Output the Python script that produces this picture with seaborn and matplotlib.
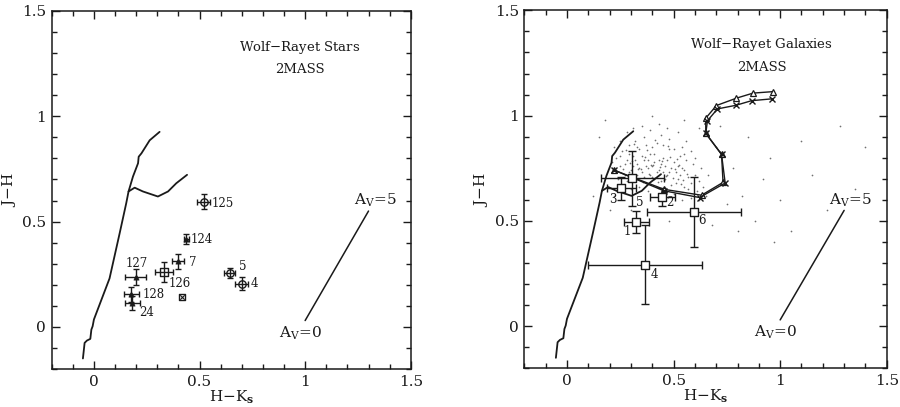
import numpy as np
import pandas as pd
import matplotlib
matplotlib.use("Agg")
import matplotlib.pyplot as plt
from matplotlib.ticker import MultipleLocator, FixedLocator, FixedFormatter
import seaborn as sns

# ---------------- data ----------------
# stellar locus (dwarfs) and giant branch
ms_hk = [-0.052, -0.044, -0.033, -0.017, -0.012, -0.006, 0.0, 0.074, 0.122, 0.153, 0.164, 0.185, 0.209, 0.212, 0.225, 0.264, 0.311]
ms_jh = [-0.150, -0.076, -0.065, -0.057, -0.013, 0.003, 0.035, 0.230, 0.445, 0.587, 0.643, 0.714, 0.777, 0.808, 0.824, 0.886, 0.926]
gb_hk = [0.164, 0.193, 0.232, 0.303, 0.351, 0.390, 0.441]
gb_jh = [0.643, 0.661, 0.643, 0.619, 0.643, 0.682, 0.722]

# reddening vector
red_hk = [1.0, 1.3]
red_jh = [0.03, 0.55]

# Wolf-Rayet stars
star_names = ["125", "124", "7", "126", "127", "128", "24", "5", "4"]
star_hk = [0.520, 0.438, 0.398, 0.332, 0.198, 0.177, 0.182, 0.643, 0.700]
star_jh = [0.595, 0.418, 0.311, 0.259, 0.237, 0.155, 0.114, 0.256, 0.205]
star_hk_err = [0.030, 0.013, 0.030, 0.044, 0.050, 0.036, 0.034, 0.027, 0.031]
star_jh_err = [0.036, 0.024, 0.035, 0.047, 0.036, 0.036, 0.032, 0.024, 0.032]
star_kind = ["open", "filled", "filled", "square", "filled", "filled", "filled", "open", "open"]
star_lab_hk = [0.611, 0.509, 0.469, 0.406, 0.204, 0.283, 0.251, 0.703, 0.762]
star_lab_jh = [0.588, 0.417, 0.306, 0.205, 0.303, 0.156, 0.066, 0.287, 0.208]
extra_hk = [0.419]
extra_jh = [0.140]

# Wolf-Rayet galaxies
gal_names = ["1", "2", "3", "4", "5", "6"]
gal_hk = [0.326, 0.448, 0.255, 0.366, 0.307, 0.596]
gal_jh = [0.495, 0.614, 0.654, 0.292, 0.702, 0.543]
gal_hk_err = [0.058, 0.060, 0.069, 0.268, 0.146, 0.219]
gal_jh_err = [0.050, 0.044, 0.056, 0.188, 0.129, 0.167]
gal_lab_hk = [0.282, 0.482, 0.216, 0.408, 0.341, 0.631]
gal_lab_jh = [0.448, 0.586, 0.603, 0.246, 0.586, 0.503]

# model tracks
trk_a_hk = [0.221, 0.455, 0.631, 0.732, 0.725, 0.651, 0.651, 0.701, 0.795, 0.873, 0.967]
trk_a_jh = [0.741, 0.650, 0.622, 0.683, 0.816, 0.916, 0.988, 1.048, 1.083, 1.107, 1.114]
trk_b_hk = [0.221, 0.455, 0.622, 0.742, 0.725, 0.651, 0.659, 0.706, 0.792, 0.866, 0.964]
trk_b_jh = [0.741, 0.643, 0.611, 0.680, 0.816, 0.916, 0.976, 1.032, 1.049, 1.071, 1.080]

# 2MASS field sources
field_hk = [0.23,0.25,0.26,0.27,0.28,0.29,0.30,0.31,0.32,0.33,0.34,0.35,0.36,0.37,0.38,0.39,0.40,0.41,0.42,0.43,
            0.44,0.45,0.46,0.47,0.48,0.49,0.50,0.51,0.52,0.53,0.54,0.55,0.56,0.57,0.58,0.59,0.24,0.26,0.28,0.30,
            0.32,0.34,0.36,0.38,0.40,0.42,0.44,0.46,0.48,0.50,0.27,0.29,0.31,0.33,0.35,0.37,0.39,0.41,0.43,0.45,
            0.47,0.49,0.51,0.53,0.55,0.57,0.60,0.62,0.61,0.63,0.22,0.25,0.28,0.31,0.35,0.39,0.43,0.47,0.52,0.56,
            0.36,0.38,0.40,0.42,0.44,0.46,0.34,0.32,0.30,0.48,0.52,0.54,0.58,0.60,0.64,0.66,0.65,0.62,0.58,0.54,
            0.21,0.23,0.25,0.29,0.33,0.37,0.41,0.45,0.50,0.55,
            0.265,0.285,0.305,0.325,0.345,0.365,0.385,0.405,0.425,0.445,0.465,0.485,0.505,0.525,0.545,0.565,
            0.275,0.295,0.315,0.335,0.355,0.375,0.395,0.415,0.435,0.455,0.475,0.495,0.515,0.535,
            0.12,0.15,0.18,0.20,0.22,0.40,0.55,0.62,0.70,0.75,0.78,0.82,0.85,0.88,0.92,0.95,1.00,1.05,1.10,1.15,
            1.22,1.28,1.35,1.40,0.68,0.48,0.30,0.72,0.80,0.97]
field_jh = [0.80,0.76,0.83,0.72,0.79,0.86,0.74,0.81,0.70,0.77,0.84,0.73,0.79,0.68,0.75,0.82,0.71,0.78,0.87,0.74,
            0.69,0.80,0.76,0.72,0.84,0.67,0.78,0.73,0.70,0.81,0.75,0.66,0.79,0.71,0.68,0.77,0.70,0.67,0.69,0.65,
            0.88,0.66,0.90,0.64,0.85,0.66,0.91,0.64,0.89,0.63,0.77,0.73,0.76,0.72,0.81,0.76,0.72,0.70,0.79,0.73,
            0.79,0.75,0.68,0.72,0.74,0.65,0.72,0.69,0.64,0.75,0.85,0.88,0.92,0.94,0.95,0.93,0.96,0.94,0.92,0.88,
            0.71,0.79,0.76,0.73,0.77,0.70,0.75,0.79,0.71,0.73,0.76,0.85,0.83,0.80,0.66,0.72,0.62,0.60,0.61,0.60,
            0.78,0.74,0.81,0.82,0.85,0.86,0.82,0.86,0.84,0.82,
            0.745,0.705,0.785,0.695,0.745,0.805,0.725,0.765,0.685,0.785,0.715,0.805,0.745,0.765,0.695,0.725,
            0.835,0.775,0.865,0.745,0.685,0.835,0.765,0.885,0.755,0.695,0.855,0.705,0.795,0.675,
            0.62,0.90,0.98,0.55,0.62,1.00,0.98,0.94,0.85,0.58,0.75,0.62,0.90,0.50,0.70,0.80,0.60,0.45,0.88,0.72,
            0.55,0.95,0.65,0.85,0.48,0.50,0.55,0.95,0.45,0.40]

# ---------------- style ----------------
sns.set_theme(style="ticks")
plt.rcParams["font.family"] = ["DejaVu Serif", "DejaVu Sans"]
plt.rcParams["mathtext.fontset"] = "dejavuserif"
plt.rcParams["axes.edgecolor"] = "#222222"
plt.rcParams["axes.linewidth"] = 1.1

INK = "#1a1a1a"

fig = plt.figure(figsize=(9.0, 4.07), dpi=100)
axL = fig.add_axes([0.0574, 0.0934, 0.399, 0.8796])
axR = fig.add_axes([0.5826, 0.0950, 0.4027, 0.8796])


def frame(ax):
    ax.set_xlim(-0.2, 1.5)
    ax.set_ylim(-0.2, 1.5)
    ax.xaxis.set_major_locator(FixedLocator([0, 0.5, 1, 1.5]))
    ax.xaxis.set_major_formatter(FixedFormatter(["0", "0.5", "1", "1.5"]))
    ax.yaxis.set_major_locator(FixedLocator([0, 0.5, 1, 1.5]))
    ax.yaxis.set_major_formatter(FixedFormatter(["0", "0.5", "1", "1.5"]))
    ax.xaxis.set_minor_locator(MultipleLocator(0.1))
    ax.yaxis.set_minor_locator(MultipleLocator(0.1))
    ax.tick_params(which="both", direction="in", top=True, right=True,
                   color=INK, labelsize=11, labelcolor=INK, width=1.0)
    ax.tick_params(which="major", length=6, pad=4)
    ax.tick_params(which="minor", length=3.5)
    for s in ax.spines.values():
        s.set_visible(True)
        s.set_color(INK)
    ax.set_xlabel(r"H$-$K$_{\mathbf{s}}$", fontsize=11, color=INK, labelpad=0)
    ax.set_ylabel(r"J$-$H", fontsize=11, color=INK, labelpad=3)
    # stellar locus
    sns.lineplot(x=ms_hk, y=ms_jh, sort=False, estimator=None, ax=ax, color=INK, lw=1.3)
    sns.lineplot(x=gb_hk, y=gb_jh, sort=False, estimator=None, ax=ax, color=INK, lw=1.3)
    # reddening vector
    sns.lineplot(x=red_hk, y=red_jh, sort=False, estimator=None, ax=ax, color=INK, lw=1.1)
    ax.text(red_hk[1] + 0.03, red_jh[1] + 0.05, r"A$_{\rm V}$=5", fontsize=11,
            ha="center", va="center", color=INK)
    ax.text(red_hk[0] - 0.02, red_jh[0] - 0.06, r"A$_{\rm V}$=0", fontsize=11,
            ha="center", va="center", color=INK)


frame(axL)
frame(axR)

# ---------- left panel: stars ----------
axL.errorbar(star_hk, star_jh, xerr=star_hk_err, yerr=star_jh_err, fmt="none",
             ecolor=INK, elinewidth=1.0, capsize=2.5, capthick=1.0)
df_s = pd.DataFrame({"hk": star_hk, "jh": star_jh, "kind": star_kind})
sub = df_s[df_s.kind == "filled"]
sns.scatterplot(data=sub, x="hk", y="jh", ax=axL, marker="^", s=14, color=INK, edgecolor=INK, linewidth=0.5)
sub = df_s[df_s.kind == "open"]
sns.scatterplot(data=sub, x="hk", y="jh", ax=axL, marker="o", s=28, facecolor="white", edgecolor=INK, linewidth=1.0)
sub = df_s[df_s.kind == "square"]
sns.scatterplot(data=sub, x="hk", y="jh", ax=axL, marker="s", s=30, facecolor="white", edgecolor=INK, linewidth=1.0)
sns.scatterplot(x=extra_hk, y=extra_jh, ax=axL, marker="s", s=22, facecolor="white", edgecolor=INK, linewidth=1.0)
sns.scatterplot(x=extra_hk, y=extra_jh, ax=axL, marker="x", s=10, color=INK, linewidth=0.8)
for n, x, y in zip(star_names, star_lab_hk, star_lab_jh):
    axL.text(x, y, n, fontsize=8.5, ha="center", va="center", color=INK)
axL.text(0.975, 1.328, "Wolf$-$Rayet Stars", fontsize=9.5, ha="center", va="center", color=INK)
axL.text(0.975, 1.222, "2MASS", fontsize=9.5, ha="center", va="center", color=INK)

# ---------- right panel: galaxies ----------
sns.scatterplot(x=field_hk, y=field_jh, ax=axR, s=1.5, color="#707070", linewidth=0, zorder=1)
sns.lineplot(x=trk_a_hk, y=trk_a_jh, sort=False, estimator=None, ax=axR, color=INK, lw=1.0,
             marker="^", markersize=4.5, markerfacecolor="white", markeredgecolor=INK, markeredgewidth=0.9, zorder=3)
sns.lineplot(x=trk_b_hk, y=trk_b_jh, sort=False, estimator=None, ax=axR, color=INK, lw=1.0,
             marker="x", markersize=4, markeredgecolor=INK, markeredgewidth=1.0, zorder=3)
axR.errorbar(gal_hk, gal_jh, xerr=gal_hk_err, yerr=gal_jh_err, fmt="none",
             ecolor=INK, elinewidth=1.0, capsize=3, capthick=1.0, zorder=4)
sns.scatterplot(x=gal_hk, y=gal_jh, ax=axR, marker="s", s=36, facecolor="white", edgecolor=INK,
                linewidth=1.0, zorder=5)
for n, x, y in zip(gal_names, gal_lab_hk, gal_lab_jh):
    axR.text(x, y, n, fontsize=8.5, ha="center", va="center", color=INK)
axR.text(0.914, 1.337, "Wolf$-$Rayet Galaxies", fontsize=9.5, ha="center", va="center", color=INK)
axR.text(0.914, 1.227, "2MASS", fontsize=9.5, ha="center", va="center", color=INK)

fig.savefig("out.png", dpi=100, facecolor="white")
